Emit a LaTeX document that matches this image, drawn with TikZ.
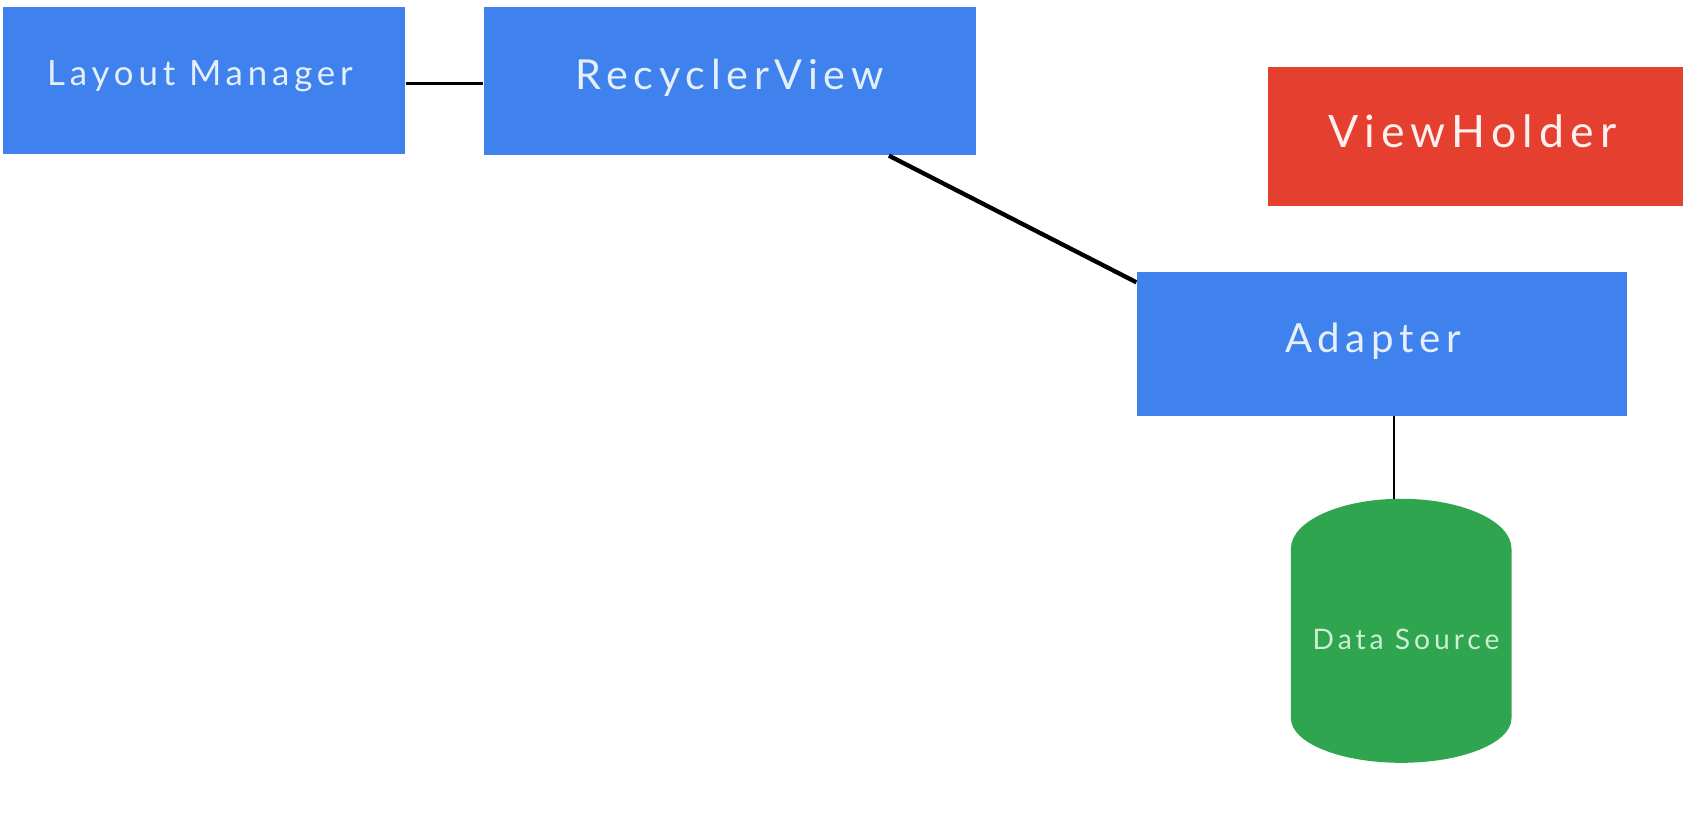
\documentclass[tikz,border=0pt]{standalone}
\usepackage{fontspec}
\setmainfont{Lato}[LetterSpace=14]
\usetikzlibrary{calc}
\definecolor{gblue}{HTML}{3F82EE}
\definecolor{gred}{HTML}{E43F2F}
\definecolor{ggreen}{HTML}{2FA54F}
\definecolor{bluetext}{HTML}{E6EFFC}
\definecolor{greentext}{HTML}{CDEFD2}
\begin{document}
\begin{tikzpicture}[x=1pt,y=1pt,
  box/.style={rectangle, fill=#1, draw=none, inner sep=0pt, text=bluetext},
  lbl/.style={text=bluetext, inner sep=0pt},
  conn/.style={draw=black, line width=#1},
]
\useasboundingbox[fill=white] (0,0) rectangle (1570,-752);
% boxes
\node[box=gblue, minimum width=370pt, minimum height=136pt] (lm) at (188,-74) {};
\node[lbl, font=\fontsize{32}{36}\selectfont] (lmt) at ([xshift=-4pt,yshift=4pt]lm.center) {Layout Manager};
\node[box=gblue, minimum width=453pt, minimum height=137pt] (rv) at (671.5,-74.5) {};
\node[lbl, font=\fontsize{38}{44}\selectfont] (rvt) at ([yshift=3pt]rv.center) {RecyclerView};
\node[box=gred, minimum width=382pt, minimum height=128pt] (vh) at (1358,-126) {};
\node[lbl, text=white!92!gred, font=\fontsize{41}{46}\selectfont] (vht) at ([xshift=-3pt,yshift=5pt]vh.center) {ViewHolder};
\node[box=gblue, minimum width=451pt, minimum height=133pt] (ad) at (1271.5,-316.5) {};
\node[lbl, font=\fontsize{37}{40}\selectfont] (adt) at ([xshift=-8pt,yshift=3pt]ad.center) {Adapter};
% data source cylinder
\fill[ggreen] (1188,-505) -- (1188,-661)
  arc[start angle=180, end angle=360, x radius=101.5, y radius=41]
  -- (1391,-505)
  arc[start angle=0, end angle=180, x radius=101.5, y radius=46] -- cycle;
\node[rectangle, draw=none, minimum width=203pt, minimum height=243pt, inner sep=0pt] (ds) at (1289.5,-580.5) {};
\node[lbl, text=greentext, font=\fontsize{26}{28}\selectfont] (dst) at (1294,-588) {Data Source};
% connectors
\draw[conn=3pt] ([yshift=-3pt]lm.east) -- ([yshift=-3pt]lm.east -| rv.west);
\draw[conn=4pt] ([xshift=146.5pt]rv.south) -- ([yshift=-10pt]ad.north west);
\draw[conn=2pt] ([xshift=11.5pt]ad.south) -- ([xshift=11.5pt]ad.south |- ds.north);
\end{tikzpicture}
\end{document}
